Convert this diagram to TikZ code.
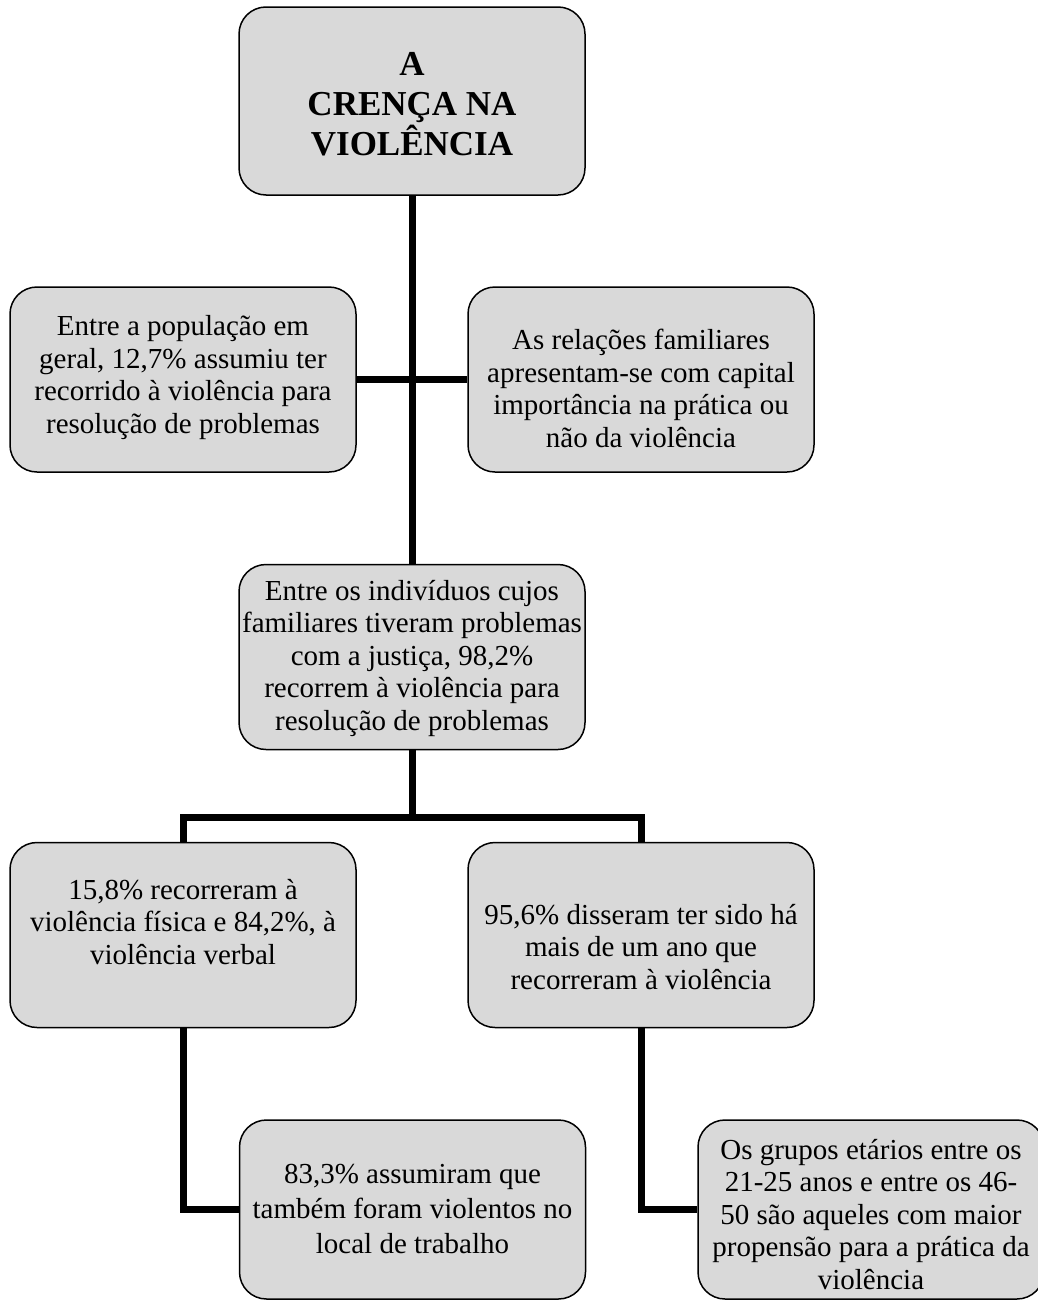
\documentclass[tikz,border=0pt]{standalone}
\usepackage{fontspec}
\setmainfont{Liberation Serif}
\definecolor{cardgray}{HTML}{D9D9D9}
\begin{document}
\begin{tikzpicture}[x=1pt,y=-1pt,
  card/.style={draw=black, line width=1.5pt, fill=cardgray, rounded corners=27pt,
    minimum width=346pt, minimum height=185pt, inner sep=0pt},
  body/.style={align=center, inner sep=0pt, font=\fontsize{29}{32.5}\selectfont},
  title/.style={align=center, inner sep=0pt, font=\fontsize{35}{40}\selectfont\bfseries},
  link/.style={line width=7pt, draw=black}]
\useasboundingbox (0,0) rectangle (1038,1301);

% boxes
\node[card, minimum height=188pt] (top) at (412,101) {};
\node[card] (famA) at (183,379.5) {};
\node[card] (famB) at (641,379.5) {};
\node[card] (mid) at (412,657) {};
\node[card] (kindA) at (183,935) {};
\node[card] (kindB) at (641,935) {};
\node[card, minimum height=179pt] (workA) at (412.5,1209.5) {};
\node[card, minimum height=179pt] (ageB) at (871,1209.5) {};

% texts
\node[title] (topT) at ([yshift=-3pt]top.center) {A\\CRENÇA NA\\VIOLÊNCIA};
\node[body] (famAT) at ([yshift=2pt]famA.center) {Entre a população em\\geral, 12,7\% assumiu ter\\recorrido à violência para\\resolução de problemas};
\node[body] (famBT) at ([yshift=-9pt]famB.center) {As relações familiares\\apresentam-se com capital\\importância na prática ou\\não da violência};
\node[body] (midT) at ([yshift=-1pt]mid.center) {Entre os indivíduos cujos\\familiares tiveram problemas\\com a justiça, 98,2\%\\recorrem à violência para\\resolução de problemas};
\node[body] (kindAT) at ([yshift=13pt]kindA.center) {15,8\% recorreram à\\violência física e 84,2\%, à\\violência verbal};
\node[body] (kindBT) at ([yshift=-12pt]kindB.center) {95,6\% disseram ter sido há\\mais de um ano que\\recorreram à violência};
\node[body, font=\fontsize{29}{35}\selectfont] (workAT) at ([yshift=1pt]workA.center) {83,3\% assumiram que\\também foram violentos no\\local de trabalho};
\node[body] (ageBT) at ([yshift=-5pt]ageB.center) {Os grupos etários entre os\\21-25 anos e entre os 46-\\50 são aqueles com maior\\propensão para a prática da\\violência};

% connectors
\coordinate (fork) at (412,817);
\draw[link] (top.south) -- (mid.north);
\draw[link] (famA.east) -- (famB.west);
\draw[link] (mid.south) -- (fork);
\draw[link] (kindA.north) |- (fork) -| (kindB.north);
\draw[link] (kindA.south) |- (workA.west);
\draw[link] (kindB.south) |- (ageB.west);
\end{tikzpicture}
\end{document}
